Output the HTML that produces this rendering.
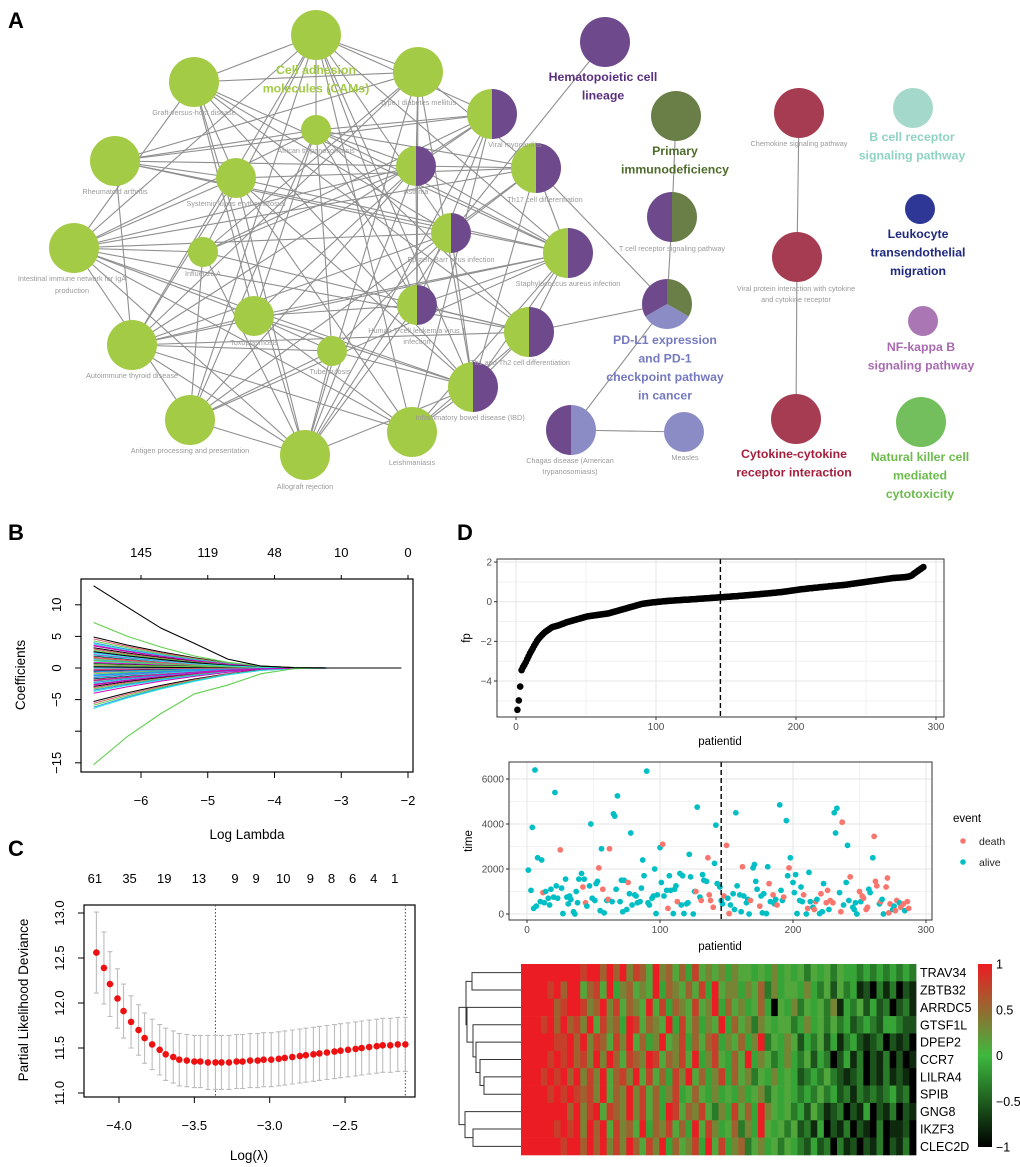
<!DOCTYPE html>
<html><head><meta charset="utf-8"><style>
html,body{margin:0;padding:0;background:#fff;}
svg{display:block;font-family:"Liberation Sans",Arial,sans-serif;}
</style></head><body>
<svg id="fig" width="1020" height="1167" viewBox="0 0 1020 1167" xmlns="http://www.w3.org/2000/svg">
<g id="gA"></g>
<g id="gB"></g>
<g id="gC"></g>
<g id="gD1"></g>
<g id="gD2"></g>
<g id="gD3"></g>
<text x="8" y="28" font-size="22" font-weight="bold">A</text>
<text x="8" y="540" font-size="22" font-weight="bold">B</text>
<text x="8" y="856" font-size="22" font-weight="bold">C</text>
<text x="457" y="540" font-size="22" font-weight="bold">D</text>
</svg>
<script>
// ---------- Panel B data ----------
const bLambdas=[-6.71,-6.2,-5.7,-5.2,-4.7,-4.2,-3.7,-3.2,-2.7,-2.1];
const bTopTicks=[-6,-5,-4,-3,-2];
const bTopLabels=["145","119","48","10","0"];
const bBlackPath=[13,9.6,6.3,3.9,1.4,0.3,0.05,0,0,0];
const bGreenTop=[7.2,5.0,3.3,1.9,0.9,0.3,0.05,0,0,0];
const bGreenBottom=[-15.3,-10.8,-7.2,-4.1,-2.7,-0.9,-0.1,0,0,0];
const bStarts=[4.9,4.6,4.3,4.0,3.8,3.5,3.2,3.0,2.8,2.5,2.3,2.1,1.9,1.7,1.5,1.3,1.1,0.9,0.7,0.5,0.3,0.1,-0.1,-0.3,-0.5,-0.7,-0.9,-1.1,-1.3,-1.5,-1.7,-1.9,-2.1,-2.3,-2.5,-2.7,-2.9,-3.1,-3.3,-3.5,-3.7,-4.0,-5.3,-5.6,-5.9,-6.2,-6.4,3.6,2.6,1.6,0.6,-0.6,-1.6,-2.6,0.2,-0.2,1.2,-1.2,2.0,-2.0];
const bShrink=[1,0.74,0.52,0.33,0.17,0.06,0.015,0,0,0];
const bColors=["#000000","#df536b","#61d04f","#2297e6","#28e2e5","#cd0bbc","#f5c710","#9e9e9e"];
// ---------- Panel C data ----------
const cLogLambda=[-4.15,-4.10,-4.06,-4.01,-3.97,-3.92,-3.87,-3.83,-3.78,-3.73,-3.69,-3.64,-3.60,-3.55,-3.50,-3.46,-3.41,-3.36,-3.32,-3.27,-3.22,-3.18,-3.13,-3.08,-3.04,-2.99,-2.94,-2.90,-2.85,-2.80,-2.76,-2.71,-2.67,-2.62,-2.57,-2.53,-2.48,-2.43,-2.39,-2.34,-2.29,-2.25,-2.20,-2.15,-2.10];
const cDeviance=[12.56,12.39,12.21,12.05,11.91,11.79,11.70,11.61,11.54,11.48,11.43,11.40,11.37,11.36,11.35,11.35,11.34,11.34,11.34,11.34,11.35,11.35,11.36,11.36,11.37,11.37,11.38,11.39,11.40,11.41,11.42,11.43,11.44,11.45,11.46,11.47,11.48,11.49,11.50,11.51,11.52,11.53,11.53,11.54,11.54];
const cErr=[0.45,0.40,0.36,0.33,0.30,0.29,0.28,0.28,0.28,0.28,0.29,0.29,0.29,0.29,0.29,0.29,0.30,0.30,0.30,0.30,0.30,0.30,0.30,0.30,0.30,0.30,0.30,0.30,0.30,0.30,0.30,0.30,0.30,0.30,0.30,0.30,0.30,0.30,0.30,0.30,0.30,0.30,0.30,0.30,0.30];
const cTopLabels=["61","35","19","13","9","9","10","9","8","6","4","1"];
const cTopLabelX=[-4.16,-3.93,-3.70,-3.47,-3.23,-3.09,-2.91,-2.73,-2.59,-2.45,-2.31,-2.17];
const cVLines=[-3.36,-2.10];
const cXTicks=[-4.0,-3.5,-3.0,-2.5];
const cYTicks=[11.0,11.5,12.0,12.5,13.0];
// ---------- Panel D data ----------
const dFp=[-5.45,-4.98,-4.28,-3.45,-3.3,-3.18,-3.05,-2.9,-2.75,-2.6,-2.48,-2.35,-2.22,-2.1,-1.98,-1.88,-1.8,-1.72,-1.65,-1.58,-1.52,-1.47,-1.42,-1.37,-1.32,-1.28,-1.26,-1.24,-1.22,-1.2,-1.18,-1.15,-1.12,-1.1,-1.07,-1.04,-1.02,-1.0,-0.98,-0.96,-0.94,-0.92,-0.9,-0.88,-0.86,-0.84,-0.82,-0.8,-0.78,-0.76,-0.74,-0.73,-0.72,-0.71,-0.7,-0.69,-0.68,-0.67,-0.66,-0.65,-0.64,-0.63,-0.62,-0.61,-0.6,-0.59,-0.57,-0.55,-0.53,-0.51,-0.49,-0.47,-0.45,-0.43,-0.41,-0.39,-0.37,-0.35,-0.33,-0.31,-0.29,-0.27,-0.25,-0.23,-0.21,-0.19,-0.17,-0.15,-0.13,-0.11,-0.1,-0.09,-0.08,-0.07,-0.06,-0.05,-0.04,-0.03,-0.03,-0.02,-0.01,0,0,0.01,0.02,0.02,0.03,0.04,0.04,0.05,0.05,0.06,0.06,0.07,0.07,0.08,0.08,0.09,0.09,0.1,0.1,0.1,0.11,0.11,0.12,0.12,0.13,0.13,0.14,0.14,0.15,0.15,0.16,0.16,0.17,0.17,0.18,0.18,0.19,0.19,0.2,0.2,0.21,0.21,0.22,0.22,0.23,0.23,0.24,0.24,0.25,0.25,0.26,0.26,0.27,0.27,0.28,0.28,0.29,0.3,0.3,0.31,0.31,0.32,0.33,0.33,0.34,0.34,0.35,0.36,0.36,0.37,0.37,0.38,0.39,0.39,0.4,0.41,0.41,0.42,0.43,0.43,0.44,0.45,0.45,0.46,0.47,0.48,0.48,0.49,0.5,0.51,0.52,0.53,0.54,0.55,0.56,0.57,0.58,0.59,0.6,0.61,0.62,0.63,0.64,0.64,0.65,0.66,0.67,0.68,0.68,0.69,0.7,0.71,0.71,0.72,0.73,0.74,0.74,0.75,0.76,0.76,0.77,0.78,0.78,0.79,0.8,0.8,0.81,0.82,0.82,0.83,0.84,0.84,0.85,0.86,0.87,0.88,0.89,0.9,0.91,0.92,0.93,0.94,0.95,0.96,0.97,0.98,0.99,1.0,1.01,1.02,1.03,1.04,1.05,1.06,1.07,1.08,1.09,1.1,1.11,1.12,1.13,1.14,1.15,1.16,1.17,1.18,1.19,1.2,1.2,1.21,1.21,1.22,1.22,1.23,1.23,1.24,1.25,1.26,1.28,1.3,1.34,1.4,1.45,1.5,1.55,1.6,1.65,1.7,1.75];
const dCutoff=146;
const dFpTicks=[-4,-2,0,2];
const dIdTicks=[0,100,200,300];
const dTimeTicks=[0,2000,4000,6000];
const dScatterIds=[1,3,4,5,6,7,8,10,11,12,13,14,16,17,18,20,21,22,23,25,26,27,29,30,31,32,33,35,36,37,38,39,41,42,43,44,45,47,48,49,51,52,53,54,55,56,57,58,60,61,62,64,65,66,67,68,70,71,72,73,75,76,77,78,79,81,82,83,85,86,87,88,90,91,92,94,95,96,97,98,100,101,102,103,105,106,107,108,110,111,112,113,115,116,117,118,120,121,122,123,125,126,127,128,130,131,132,133,135,136,137,138,140,141,142,143,145,146,147,148,150,151,152,153,155,156,157,158,160,161,162,163,165,166,167,168,170,171,172,173,175,176,177,178,180,181,182,183,185,186,187,188,190,191,192,193,195,196,197,198,200,201,202,203,205,206,207,208,210,211,212,213,215,216,217,218,220,221,222,223,225,226,227,228,230,231,232,233,235,236,237,238,240,241,242,243,245,246,247,248,250,251,252,253,255,256,257,258,260,261,262,263,265,266,267,268,270,271,272,273,275,276,277,278,280,281,283,284,286,287,288];
const dScatterTimes=[1950,1050,3850,250,6400,350,2500,550,2400,950,500,1000,700,400,1100,750,5400,1250,700,2850,1150,20,1550,750,450,800,650,100,0,1000,500,1550,1800,1200,1550,500,350,1250,4000,700,600,1350,1450,2050,150,2900,1100,50,600,650,2900,550,4450,4350,1100,5250,550,1500,100,1500,200,1400,900,3600,400,850,800,500,550,1150,2400,1700,6350,500,400,700,800,2000,20,850,2950,1400,3100,800,1050,250,1700,1050,20,1100,1250,550,1800,400,1700,20,450,500,2650,1650,0,1000,1000,4750,750,600,1750,1500,1450,2500,850,600,300,2250,3950,1350,1200,600,450,800,3050,700,20,400,900,200,4500,1250,850,100,2100,800,500,650,0,600,2050,2200,1450,1100,350,800,50,900,20,2100,1350,550,850,450,650,400,4850,1050,600,750,4150,1700,2050,2500,1400,950,1750,20,600,1200,550,850,0,250,1850,550,300,200,550,650,20,900,100,1350,500,1050,200,600,500,4500,3600,4700,950,100,4080,400,1400,3050,600,1650,300,200,500,0,1000,550,800,700,200,300,1100,950,2500,3450,1450,1250,450,550,650,0,1200,1600,50,450,200,350,150,600,500,300,450,150,550,250];
const dScatterEvents=[0,0,0,0,0,0,0,0,0,1,0,0,0,0,0,0,0,0,0,1,0,0,0,0,0,0,0,0,0,0,0,0,0,1,0,1,0,0,0,0,0,0,0,1,0,0,1,0,0,1,1,0,0,0,0,0,0,0,0,0,0,1,0,0,0,0,0,0,0,0,0,0,0,0,0,0,0,0,0,0,0,0,1,0,0,1,0,0,0,0,0,1,0,0,0,0,0,0,0,0,0,0,1,0,0,1,0,0,0,1,1,1,1,0,0,0,0,0,0,1,1,0,1,0,0,0,0,0,0,0,1,0,0,0,0,1,0,0,0,0,1,0,0,0,0,0,1,0,1,0,0,1,0,0,0,1,0,0,1,0,0,0,0,0,0,0,0,1,0,1,0,0,0,1,1,0,0,1,0,0,1,1,0,1,1,0,0,0,0,1,1,0,0,0,0,1,0,0,0,0,1,0,1,1,1,1,0,0,0,1,1,1,0,1,0,0,1,1,1,1,0,0,1,1,0,1,1,0,1,1,0,1,1];
const hmGenes=["TRAV34","ZBTB32","ARRDC5","GTSF1L","DPEP2","CCR7","LILRA4","SPIB","GNG8","IKZF3","CLEC2D"];
const hmRows=[
"999999999899797968759675748565646554546454535453544343434343",
"999989799578594675659476575849566465736455464352534120313021",
"999997899867968576595847658569475645740546354536143524230231",
"999897978695867498576594857465947563654553464535342343244322",
"999998897968758695746956847578465746935465243524134212302120",
"999989897869697587698576859468547594653464352430241302130201",
"999898979686957869585748695746847563546454234353212302131210",
"999989898786957696857468457546454645635454343534231323234230",
"999999979689587696857498576853648574965453425312302140213021",
"999998989697958675947685749586457364954535231402130210301120",
"999999899797968697586947568495846735645354324230312021302130"];
const hmScaleTicks=[1,0.5,0,-0.5,-1];
const hmScaleLabels=["1","0.5","0","\u22120.5","\u22121"];

const NS="http://www.w3.org/2000/svg";
function mk(parent,tag,attrs,text){const e=document.createElementNS(NS,tag);for(const k in attrs)e.setAttribute(k,attrs[k]);if(text!==undefined)e.textContent=text;parent.appendChild(e);return e;}

// ================= Panel A =================
(function(){
const g=document.getElementById('gA');
const G="#a4cb45",P="#6e4a8c",O="#6a7f48",L="#8b8cc6",R="#a63c52";
const nodes=[
["cams",316,35,25,[G]],["graft",194,82,25,[G]],["t1d",418,72,25,[G]],["african",316,130,15,[G]],
["ra",115,161,25,[G]],["sle",236,178,20,[G]],["iga",74,248,25,[G]],["flu",203,252,15,[G]],
["toxo",254,316,20,[G]],["thyroid",132,345,25,[G]],["tb",332,351,15,[G]],["antigen",190,420,25,[G]],
["allograft",305,455,25,[G]],["leish",412,432,25,[G]],
["viralmyo",492,114,25,[G,P]],["asthma",416,166,20,[G,P]],["th17",536,168,25,[G,P]],["ebv",451,233,20,[G,P]],
["staph",568,253,25,[G,P]],["htlv",417,305,20,[G,P]],["th12",529,332,25,[G,P]],["ibd",473,387,25,[G,P]],
["hema",605,42,25,[P]],["primary",676,116,25,[O]],["tcr",672,217,25,[P,O]],["pdl1",667,304,25,"pie3"],
["chagas",571,430,25,[P,L]],["measles",684,432,20,[L]],["chemo",799,113,25,[R]],["viralprot",797,257,25,[R]],
["cytokine",796,419,25,[R]],["bcell",913,108,20,["#a4d8ca"]],["leuko",920,209,15,["#2e3795"]],
["nfkb",923,321,15,["#ab76b4"]],["nk",921,422,25,["#74bf5d"]]];
const idx={};nodes.forEach((n,i)=>idx[n[0]]=i);
const eg=mk(g,'g',{});


const cl=22;
for(let i=0;i<cl;i++)for(let j=i+1;j<cl;j++){
 if((i*7+j*3)%4===0||(i+j)%5===0||(i*j)%3===1)continue;
 const a=nodes[i],b=nodes[j];
 const ln=mk(eg,'line',{x1:a[1],y1:a[2],x2:b[1],y2:b[2],stroke:"#8f8f8f","stroke-width":1.1});
 
 
}
[["hema","ebv"],["primary","tcr"],["tcr","pdl1"],["pdl1","th17"],["pdl1","th12"],["pdl1","chagas"],["chagas","measles"],["chemo","viralprot"],["viralprot","cytokine"]].forEach(p=>{
 const a=nodes[idx[p[0]]],b=nodes[idx[p[1]]];
 const ln=mk(eg,'line',{x1:a[1],y1:a[2],x2:b[1],y2:b[2],stroke:"#8f8f8f","stroke-width":1.1});
 
 
});
function arc(cx,cy,r,a0,a1){const p=(a)=>[cx+r*Math.sin(a*Math.PI/180),cy-r*Math.cos(a*Math.PI/180)];const s=p(a0),e=p(a1);return `M${cx},${cy} L${s[0]},${s[1]} A${r},${r} 0 ${(a1-a0)>180?1:0} 1 ${e[0]},${e[1]} Z`;}
nodes.forEach(n=>{
 const ng=mk(g,'g',{});
 
 
 const [nm,x,y,r,c]=n;
 if(c==="pie3"){mk(ng,'path',{d:arc(x,y,r,0,120),fill:O});mk(ng,'path',{d:arc(x,y,r,120,240),fill:L});mk(ng,'path',{d:arc(x,y,r,240,360),fill:P});}
 else if(c.length===2){mk(ng,'path',{d:arc(x,y,r,180,360),fill:c[0]});mk(ng,'path',{d:arc(x,y,r,0,180),fill:c[1]});}
 else mk(ng,'circle',{cx:x,cy:y,r:r,fill:c[0]});
});
const small=[["Graft-versus-host disease",194,115],["Type I diabetes mellitus",418,105],["African trypanosomiasis",316,153],["Viral myocarditis",515,147],["Rheumatoid arthritis",115,194],["Systemic lupus erythematosus",236,206],["Asthma",416,194],["Th17 cell differentiation",545,202],["Intestinal immune network for IgA",72,281],["production",72,293],["Influenza A",203,276],["Epstein-Barr virus infection",451,262],["Staphylococcus aureus infection",568,286],["T cell receptor signaling pathway",672,251],["Human T-cell leukemia virus 1",417,333],["infection",417,344],["Toxoplasmosis",254,345],["Tuberculosis",330,374],["Th1 and Th2 cell differentiation",520,365],["Autoimmune thyroid disease",132,378],["Inflammatory bowel disease (IBD)",470,420],["Antigen processing and presentation",190,453],["Leishmaniasis",412,465],["Allograft rejection",305,489],["Chagas disease (American",570,463],["trypanosomiasis)",570,474],["Measles",685,460],["Chemokine signaling pathway",799,146],["Viral protein interaction with cytokine",796,291],["and cytokine receptor",796,302]];
small.forEach(s=>{const t=mk(g,'text',{x:s[1],y:s[2],"font-size":7.3,fill:"#9a9a9a","text-anchor":"middle"},s[0]);
 
 });
const big=[[["Cell adhesion","molecules (CAMs)"],316,74,"#a4cb45"],[["Hematopoietic cell","lineage"],603,81,"#5b2f7f"],[["Primary","immunodeficiency"],675,155,"#4e6b2c"],[["PD-L1 expression","and PD-1","checkpoint pathway","in cancer"],665,344,"#7579c0"],[["B cell receptor","signaling pathway"],912,141,"#8fd3c3"],[["Leukocyte","transendothelial","migration"],918,238,"#1f2a7e"],[["NF-kappa B","signaling pathway"],921,351,"#a86bb0"],[["Cytokine-cytokine","receptor interaction"],794,458,"#a51f3c"],[["Natural killer cell","mediated","cytotoxicity"],920,461,"#6dbb4c"]];
big.forEach(b=>{b[0].forEach((l,i)=>{const t=mk(g,'text',{x:b[1],y:b[2]+i*18.5,"font-size":12.3,"font-weight":"bold",fill:b[3],"text-anchor":"middle"},l);
 
 });});
})();

// ================= Panel B =================
(function(){
const g=document.getElementById('gB');
const X=v=>141+(v+6)*66.75, Y=v=>668-v*6.32;
mk(g,'rect',{x:81,y:579,width:332,height:193,fill:"none",stroke:"#000","stroke-width":1.2});
const lg=mk(g,'g',{});


function pathFrom(vals){return vals.map((v,i)=>(i?"L":"M")+X(bLambdas[i])+","+Y(v)).join(" ");}
bStarts.forEach((s,k)=>{const p=mk(lg,'path',{d:pathFrom(bShrink.map(f=>s*f)),fill:"none",stroke:bColors[k%6],"stroke-width":1});
 
 });
[[bGreenTop,"#61d04f"],[bGreenBottom,"#61d04f"],[bBlackPath,"#000"]].forEach(a=>{const p=mk(lg,'path',{d:pathFrom(a[0]),fill:"none",stroke:a[1],"stroke-width":1.1});
 
 });
bTopTicks.forEach((t,i)=>{mk(g,'line',{x1:X(t),x2:X(t),y1:579,y2:575,stroke:"#000"});
 mk(g,'line',{x1:X(t),x2:X(t),y1:772,y2:778,stroke:"#000"});
 const tl=mk(g,'text',{x:X(t),y:557,"font-size":13,"text-anchor":"middle"},bTopLabels[i]);
 
 
 const bl=mk(g,'text',{x:X(t),y:805,"font-size":13,"text-anchor":"middle"},t<0?"\u2212"+(-t):String(t));
 
 });
[10,5,0,-5,-10,-15].forEach(v=>{mk(g,'line',{x1:81,x2:75,y1:Y(v),y2:Y(v),stroke:"#000"});
 if(v!==-10){const t=mk(g,'text',{x:0,y:0,"font-size":13,"text-anchor":"middle",transform:`translate(61,${Y(v)}) rotate(-90)`},v<0?"\u2212"+(-v):String(v));
 
 }});
mk(g,'text',{x:247,y:839,"font-size":13.5,"text-anchor":"middle"},"Log Lambda");
mk(g,'text',{x:0,y:0,"font-size":13.5,"text-anchor":"middle",transform:"translate(25,675) rotate(-90)"},"Coefficients");
})();

// ================= Panel C =================
(function(){
const g=document.getElementById('gC');
const X=v=>119+(v+4)*150.7, Y=v=>1093-(v-11)*90;
mk(g,'rect',{x:84,y:905,width:331,height:192,fill:"none",stroke:"#000","stroke-width":1.2});
cVLines.forEach(v=>{const l=mk(g,'line',{x1:X(v),x2:X(v),y1:905,y2:1097,stroke:"#444","stroke-dasharray":"1.5,2"});
 
 });
cLogLambda.forEach((lv,i)=>{const x=X(lv),y1=Y(cDeviance[i]+cErr[i]),y2=Y(cDeviance[i]-cErr[i]);
 const eb=mk(g,'path',{d:`M${x},${y1}V${y2}M${x-2.5},${y1}H${x+2.5}M${x-2.5},${y2}H${x+2.5}`,stroke:"#bdbdbd","stroke-width":1.1,fill:"none"});
 
 });
cLogLambda.forEach((lv,i)=>{const c=mk(g,'circle',{cx:X(lv),cy:Y(cDeviance[i]),r:3.3,fill:"#ee1111"});
 
 });
cXTicks.forEach(t=>{mk(g,'line',{x1:X(t),x2:X(t),y1:1097,y2:1103,stroke:"#000"});
 const tl=mk(g,'text',{x:X(t),y:1130,"font-size":13,"text-anchor":"middle"},"\u2212"+(-t).toFixed(1));
 
 });
cYTicks.forEach(v=>{mk(g,'line',{x1:84,x2:78,y1:Y(v),y2:Y(v),stroke:"#000"});
 const t=mk(g,'text',{x:0,y:0,"font-size":13,"text-anchor":"middle",transform:`translate(64,${Y(v)}) rotate(-90)`},v.toFixed(1));
 
 });
cTopLabels.forEach((l,i)=>{const t=mk(g,'text',{x:X(cTopLabelX[i]),y:883,"font-size":13,"text-anchor":"middle"},l);
 
 });
mk(g,'text',{x:249,y:1160,"font-size":13.5,"text-anchor":"middle"},"Log(\u03bb)");
mk(g,'text',{x:0,y:0,"font-size":13.5,"text-anchor":"middle",transform:"translate(28,1000) rotate(-90)"},"Partial Likelihood Deviance");
})();

// ================= Panel D top =================
(function(){
const g=document.getElementById('gD1');
const X=v=>516+v*1.4, Y=v=>601.7-v*19.83;
[-5,-3,-1,1].forEach(v=>mk(g,'line',{x1:497,x2:944,y1:Y(v),y2:Y(v),stroke:"#f2f2f2"}));
[50,150,250].forEach(v=>mk(g,'line',{x1:X(v),x2:X(v),y1:559,y2:717,stroke:"#f2f2f2"}));
dFpTicks.forEach(v=>{mk(g,'line',{x1:497,x2:944,y1:Y(v),y2:Y(v),stroke:"#e6e6e6"});
 mk(g,'line',{x1:494,x2:497,y1:Y(v),y2:Y(v),stroke:"#333"});
 const t=mk(g,'text',{x:492,y:Y(v)+3.5,"font-size":10,fill:"#4d4d4d","text-anchor":"end"},v<0?"\u2212"+(-v):String(v));
 
 });
dIdTicks.forEach(v=>{mk(g,'line',{x1:X(v),x2:X(v),y1:559,y2:717,stroke:"#e6e6e6"});
 mk(g,'line',{x1:X(v),x2:X(v),y1:717,y2:720,stroke:"#333"});
 const t=mk(g,'text',{x:X(v),y:730,"font-size":10,fill:"#4d4d4d","text-anchor":"middle"},String(v));
 
 });
dFp.forEach((v,i)=>{const c=mk(g,'circle',{cx:X(i+1),cy:Y(v),r:3.3,fill:"#000"});
 
 });
mk(g,'line',{x1:X(dCutoff),x2:X(dCutoff),y1:559,y2:717,stroke:"#000","stroke-width":1.4,"stroke-dasharray":"5,3"});
mk(g,'rect',{x:497,y:559,width:447,height:158,fill:"none",stroke:"#333","stroke-width":1});
mk(g,'text',{x:720,y:745,"font-size":11.5,"text-anchor":"middle"},"patientid");
mk(g,'text',{x:0,y:0,"font-size":11.5,"text-anchor":"middle",transform:"translate(470,638) rotate(-90)"},"fp");
})();

// ================= Panel D middle =================
(function(){
const g=document.getElementById('gD2');
const X=v=>527+v*1.33, Y=v=>914-v*0.0225;
const cols=["#f8766d","#00bfc4"];
[1000,3000,5000].forEach(v=>mk(g,'line',{x1:509,x2:932,y1:Y(v),y2:Y(v),stroke:"#f2f2f2"}));
[50,150,250].forEach(v=>mk(g,'line',{x1:X(v),x2:X(v),y1:762,y2:920,stroke:"#f2f2f2"}));
dTimeTicks.forEach(v=>{mk(g,'line',{x1:509,x2:932,y1:Y(v),y2:Y(v),stroke:"#e6e6e6"});
 mk(g,'line',{x1:506,x2:509,y1:Y(v),y2:Y(v),stroke:"#333"});
 const t=mk(g,'text',{x:504,y:Y(v)+3.5,"font-size":10,fill:"#4d4d4d","text-anchor":"end"},String(v));
 
 });
dIdTicks.forEach(v=>{mk(g,'line',{x1:X(v),x2:X(v),y1:762,y2:920,stroke:"#e6e6e6"});
 mk(g,'line',{x1:X(v),x2:X(v),y1:920,y2:923,stroke:"#333"});
 const t=mk(g,'text',{x:X(v),y:933,"font-size":10,fill:"#4d4d4d","text-anchor":"middle"},String(v));
 
 });
const nPts=Math.min(dScatterIds.length,dScatterTimes.length,dScatterEvents.length);
for(let i=0;i<nPts;i++){const c=mk(g,'circle',{cx:X(dScatterIds[i]),cy:Y(dScatterTimes[i]),r:2.9,fill:cols[dScatterEvents[i]?0:1]});
 
 }
mk(g,'line',{x1:X(dCutoff),x2:X(dCutoff),y1:762,y2:920,stroke:"#000","stroke-width":1.4,"stroke-dasharray":"5,3"});
mk(g,'rect',{x:509,y:762,width:423,height:158,fill:"none",stroke:"#333","stroke-width":1});
mk(g,'text',{x:0,y:0,"font-size":11.5,"text-anchor":"middle",transform:"translate(472,841) rotate(-90)"},"time");
mk(g,'text',{x:953,y:822,"font-size":11.5},"event");
const l1=mk(g,'g',{});
mk(l1,'circle',{cx:963,cy:841,r:2.8,fill:cols[0]});mk(l1,'text',{x:979,y:845,"font-size":10.5,fill:"#222"},"death");
const l2=mk(g,'g',{});
mk(l2,'circle',{cx:963,cy:862,r:2.8,fill:cols[1]});mk(l2,'text',{x:979,y:866,"font-size":10.5,fill:"#222"},"alive");
})();

// ================= Panel D heatmap =================
(function(){
const g=document.getElementById('gD3');
const x0=521,x1=916,y0=964,y1=1155,rh=(y1-y0)/hmGenes.length;
function col(v){const lerp=(a,b,t)=>Math.round(a+(b-a)*t);
 if(v>=0){return `rgb(${lerp(62,236,v)},${lerp(184,28,v)},${lerp(62,36,v)})`;}
 const t=-v;return `rgb(${lerp(62,0,t)},${lerp(184,0,t)},${lerp(62,0,t)})`;}
mk(g,'text',{x:720,y:950,"font-size":11.5,"text-anchor":"middle"},"patientid");
hmRows.forEach((row,r)=>{const cw=(x1-x0)/row.length;
 for(let c=0;c<row.length;c++){const v=(+row[c])/4.5-1;
  const cell=mk(g,'rect',{x:x0+c*cw,y:y0+r*rh,width:cw+0.4,height:rh+0.3,fill:col(v)});
  
  }
 const t=mk(g,'text',{x:920,y:y0+(r+0.5)*rh+4.5,"font-size":12.5},hmGenes[r]);
 
 });
const yc=i=>y0+(i+0.5)*rh;
const dg=mk(g,'path',{fill:"none",stroke:"#333","stroke-width":1,d:
 `M${x0},${yc(0)}H472V${yc(1)}H${x0}`+
 `M${x0},${yc(6)}H484V${yc(7)}H${x0}`+
 `M${x0},${yc(5)}H480V${(yc(6)+yc(7))/2}H484`+
 `M${x0},${yc(4)}H476V${(yc(5)+yc(6.5))/2}H480`+
 `M${x0},${yc(3)}H473V${(yc(4)+yc(5.7))/2}H476`+
 `M${x0},${yc(2)}H467V${(yc(3)+yc(5))/2}H473`+
 `M472,${(yc(0)+yc(1))/2}H466V${(yc(2)+yc(4))/2}H467`+
 `M${x0},${yc(9)}H473V${yc(10)}H${x0}`+
 `M${x0},${yc(8)}H465V${(yc(9)+yc(10))/2}H473`+
 `M466,${(yc(1)+yc(3))/2}H459V${(yc(8)+yc(9.5))/2}H465`});


const cb=mk(g,'defs',{});
const lgd=mk(cb,'linearGradient',{id:"hmgrad",x1:0,y1:0,x2:0,y2:1});
[[0,1],[0.25,0.5],[0.5,0],[0.75,-0.5],[1,-1]].forEach(s=>mk(lgd,'stop',{offset:s[0],"stop-color":col(s[1])}));
const bar=mk(g,'rect',{x:978,y:964,width:14,height:183,fill:"url(#hmgrad)"});


hmScaleTicks.forEach((v,i)=>{const t=mk(g,'text',{x:996,y:964+(1-v)/2*183+4.5,"font-size":12.5},hmScaleLabels[i]);
 
 });
})();
</script>
</body></html>
